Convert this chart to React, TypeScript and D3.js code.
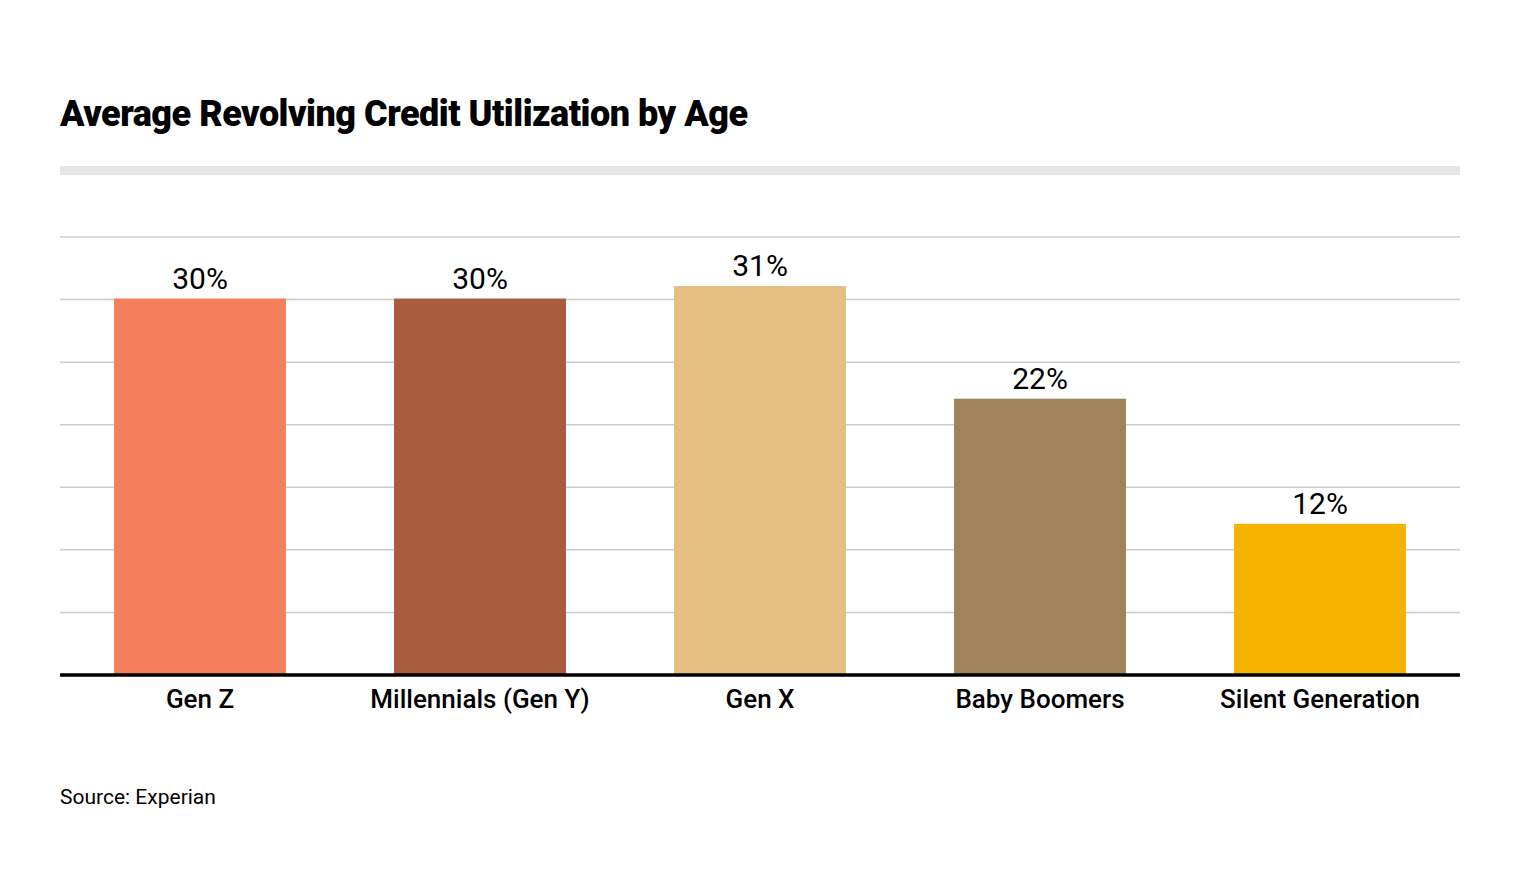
import React from "react";
import * as d3 from "d3";

const categories = ["Gen Z", "Millennials (Gen Y)", "Gen X", "Baby Boomers", "Silent Generation"];
const values = [30, 30, 31, 22, 12];
const colors = ["#F47F5B", "#A85C3D", "#E6BE80", "#A0835B", "#F8B200"];
const gridTicks = [5, 10, 15, 20, 25, 30, 35];

const W = 1520;
const H = 876;
const left = 60;
const right = 1460;
const baseY = 675;

export default function App() {
  const x = d3.scaleBand<string>().domain(categories).range([left, right]).paddingInner(0.386).paddingOuter(0.193);
  const y = d3.scaleLinear().domain([0, 35]).range([baseY, 237]);
  const font = "Roboto, 'Noto Sans', sans-serif";
  return (
    <svg width={W} height={H} style={{ position: "absolute", left: 0, top: 0, background: "#fff" }}>
      <rect x={0} y={0} width={W} height={H} fill="#fff" />
      <text x={60} y={126} fontFamily={font} fontWeight={900} fontSize={36} letterSpacing={-0.5} fill="#000">
        Average Revolving Credit Utilization by Age
      </text>
      <rect x={left} y={166} width={right - left} height={9} fill="#E6E6E6" />
      {gridTicks.map((t) => (
        <line key={t} x1={left} x2={right} y1={y(t)} y2={y(t)} stroke="#CCCCCC" strokeWidth={1.5} />
      ))}
      {categories.map((c, i) => (
        <g key={c}>
          <rect x={x(c)} y={y(values[i]) - 1} width={x.bandwidth()} height={baseY - y(values[i]) + 1} fill={colors[i]} />
          <text x={(x(c) as number) + x.bandwidth() / 2} y={y(values[i]) - 11} textAnchor="middle" fontFamily={font} fontSize={30} fill="#000">
            {values[i]}%
          </text>
          <text x={(x(c) as number) + x.bandwidth() / 2} y={708} textAnchor="middle" fontFamily={font} fontWeight={500} fontSize={26} fill="#000">
            {c}
          </text>
        </g>
      ))}
      <line x1={left} x2={right} y1={baseY} y2={baseY} stroke="#000" strokeWidth={3.5} />
      <text x={60} y={804} fontFamily={font} fontSize={21} fill="#000">
        Source: Experian
      </text>
    </svg>
  );
}
